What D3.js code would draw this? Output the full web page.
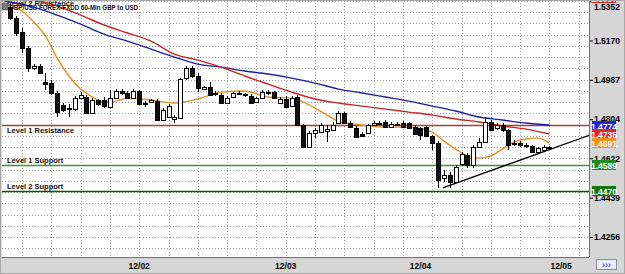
<!DOCTYPE html>
<html>
<head>
<meta charset="utf-8">
<script src="https://cdn.jsdelivr.net/npm/d3@7"></script>
<style>
  body { margin: 0; background: #fff; }
  text { font-family: "Liberation Sans Narrow", "Arial Narrow", "Liberation Sans", Arial, sans-serif; font-weight: bold; }
</style>
</head>
<body>
<script>
// hourly GBP/USD candles, bar 0 .. 92
const open = [1.5325,1.5274,1.5209,1.5135,1.5042,1.5051,1.4977,1.4972,1.4926,1.4870,1.4856,1.4851,1.4902,1.4907,1.4833,1.4893,1.4893,1.4860,1.4902,1.4935,
  1.4926,1.4902,1.4935,1.4879,1.4884,1.4888,1.4800,1.4814,1.4805,1.4809,1.4995,1.5042,1.5005,1.4944,1.4953,1.4926,1.4916,1.4879,1.4907,1.4921,
  1.4916,1.4912,1.4884,1.4902,1.4930,1.4930,1.4879,1.4898,1.4865,1.4907,1.4777,1.4674,1.4740,1.4744,1.4749,1.4753,1.4786,1.4833,1.4786,1.4763,
  1.4735,1.4740,1.4777,1.4786,1.4791,1.4767,1.4781,1.4786,1.4786,1.4767,1.4763,1.4767,1.4726,1.4693,1.4530,1.4544,1.4512,1.4595,1.4637,1.4591,
  1.4674,1.4698,1.4791,1.4763,1.4777,1.4753,1.4693,1.4693,1.4684,1.4679,1.4651,1.4660,1.4670]
const high = [1.5344,1.5284,1.5228,1.5144,1.5060,1.5060,1.5019,1.4986,1.4935,1.4879,1.4874,1.4912,1.4930,1.4916,1.4902,1.4898,1.4907,1.4939,1.4944,1.4944,
  1.4935,1.4944,1.4939,1.4888,1.4898,1.4898,1.4856,1.4874,1.4823,1.4995,1.5051,1.5051,1.5019,1.4958,1.4977,1.4935,1.4926,1.4912,1.4930,1.4935,
  1.4926,1.4921,1.4907,1.4939,1.4939,1.4935,1.4907,1.4912,1.4912,1.4916,1.4781,1.4749,1.4763,1.4786,1.4777,1.4791,1.4842,1.4837,1.4795,1.4772,
  1.4744,1.4781,1.4795,1.4795,1.4800,1.4791,1.4791,1.4795,1.4791,1.4777,1.4767,1.4772,1.4730,1.4702,1.4567,1.4558,1.4591,1.4651,1.4647,1.4684,
  1.4716,1.4814,1.4800,1.4786,1.4786,1.4758,1.4707,1.4702,1.4693,1.4684,1.4674,1.4684,1.4679]
const low = [1.5265,1.5191,1.5112,1.5023,1.5032,1.5014,1.4939,1.4916,1.4814,1.4837,1.4814,1.4842,1.4898,1.4828,1.4828,1.4865,1.4856,1.4856,1.4898,1.4916,
  1.4898,1.4898,1.4870,1.4860,1.4879,1.4795,1.4795,1.4809,1.4786,1.4805,1.4986,1.4995,1.4930,1.4939,1.4912,1.4912,1.4874,1.4874,1.4902,1.4916,
  1.4907,1.4874,1.4879,1.4898,1.4916,1.4898,1.4874,1.4856,1.4860,1.4772,1.4670,1.4670,1.4716,1.4740,1.4698,1.4749,1.4781,1.4781,1.4763,1.4716,
  1.4721,1.4735,1.4772,1.4777,1.4763,1.4763,1.4772,1.4763,1.4758,1.4730,1.4707,1.4721,1.4660,1.4484,1.4512,1.4484,1.4507,1.4586,1.4577,1.4577,
  1.4670,1.4693,1.4749,1.4753,1.4744,1.4660,1.4679,1.4674,1.4670,1.4647,1.4647,1.4656,1.4665]
const close = [1.5274,1.5205,1.5135,1.5042,1.5051,1.5019,1.4967,1.4926,1.4837,1.4846,1.4851,1.4902,1.4916,1.4833,1.4893,1.4874,1.4865,1.4902,1.4935,1.4926,
  1.4902,1.4935,1.4874,1.4874,1.4893,1.4800,1.4846,1.4865,1.4814,1.4991,1.5042,1.5005,1.4949,1.4953,1.4916,1.4921,1.4879,1.4902,1.4926,1.4926,
  1.4921,1.4879,1.4902,1.4930,1.4926,1.4902,1.4898,1.4860,1.4902,1.4777,1.4674,1.4740,1.4753,1.4777,1.4758,1.4777,1.4833,1.4786,1.4767,1.4721,
  1.4726,1.4777,1.4786,1.4781,1.4767,1.4781,1.4777,1.4767,1.4763,1.4735,1.4730,1.4726,1.4693,1.4521,1.4544,1.4512,1.4581,1.4642,1.4591,1.4674,
  1.4698,1.4791,1.4753,1.4777,1.4753,1.4684,1.4688,1.4684,1.4679,1.4651,1.4670,1.4674,1.4674]

// moving averages, read at selected bars
const maBars = [-1,0,4,8,12,16,20,24,28,32,36,40,44,48,52,56,60,64,68,72,76,80,84,88,92]
const blueMa = [1.5353,1.5349,1.5325,1.5288,1.5246,1.5200,1.5167,1.5130,1.5093,1.5060,1.5046,1.5028,1.5014,1.4995,1.4972,1.4944,1.4926,1.4907,1.4888,1.4865,1.4842,1.4814,1.4800,1.4786,1.4777]
const redMa = [1.5372,1.5363,1.5358,1.5330,1.5288,1.5242,1.5205,1.5167,1.5107,1.5079,1.5046,1.5005,1.4967,1.4930,1.4898,1.4879,1.4865,1.4851,1.4837,1.4823,1.4805,1.4791,1.4772,1.4758,1.4735]
const orangeBars = [-1,0,2,4,6,8,10,12,14,16,18,20,24,28,32,36,40,44,48,52,56,60,64,68,72,74,76,78,80,82,84,86,88,90,92]
const orangeMa = [1.5344,1.5335,1.5307,1.5256,1.5191,1.5088,1.5005,1.4944,1.4907,1.4884,1.4888,1.4902,1.4893,1.4879,1.4898,1.4930,1.4935,1.4907,1.4902,1.4856,
  1.4795,1.4777,1.4767,1.4767,1.4744,1.4702,1.4665,1.4633,1.4623,1.4633,1.4665,1.4698,1.4712,1.4716,1.4693]

const levelNames = ['Level 2 Resistance', 'Level 1 Resistance', 'Level 1 Support', 'Level 2 Support']
const levelValues = [1.5367, 1.4777, 1.4589, 1.4470]
const levelColors = ['#b03a3a', '#a83c3c', '#2e9a2e', '#0c540c']

const trendBars = [73.8, 98.9]
const trendValues = [1.4484, 1.4730]

const yTicks = [1.5352, 1.5170, 1.4987, 1.4804, 1.4622, 1.4439, 1.4256]
const dayLabels = ['12/02', '12/03', '12/04', '12/05']
const dayBars = [22, 47, 70, 94]

const tagValues = [1.5367, 1.4774, 1.4735, 1.4691, 1.4589, 1.4470]
const tagColors = ['#d42020', '#2525d0', '#e02828', '#f0901c', '#1d8a1d', '#10780f']

const title = 'GBP/USD FOREX-FXDD 60-Min GBP to USD'

const width = 625
const height = 274
const plot = { left: 2, top: 0, right: 589, bottom: 257 }

const svg = d3.select('body').append('svg')
  .attr('width', width)
  .attr('height', height)

svg.append('rect').attr('width', width).attr('height', height).attr('fill', '#d6d6d6')
svg.append('rect')
  .attr('x', plot.left).attr('y', plot.top)
  .attr('width', plot.right - plot.left).attr('height', plot.bottom - plot.top)
  .attr('fill', '#fff')

svg.append('clipPath').attr('id', 'clip').append('rect')
  .attr('x', plot.left).attr('y', plot.top)
  .attr('width', plot.right - plot.left).attr('height', plot.bottom - plot.top)

const xScale = d3.scaleLinear().domain([0, 92]).range([10.3, 549.4])
const yScale = d3.scaleLinear().domain([1.4256, 1.5170]).range([237, 40.5])

const g = svg.append('g').attr('clip-path', 'url(#clip)')

// grid
const step = (1.4622 - 1.4256) / 7
const hGrid = d3.range(-1, 23).map(k => 1.4256 + k * step)
g.selectAll('line.hgrid').data(hGrid).enter().append('line')
  .attr('x1', plot.left).attr('x2', plot.right)
  .attr('y1', d => Math.round(yScale(d)) + 0.5).attr('y2', d => Math.round(yScale(d)) + 0.5)
  .attr('stroke', '#9a9a9a').attr('stroke-dasharray', '1,2')
const vGrid = d3.range(2, 98, 5)
g.selectAll('line.vgrid').data(vGrid).enter().append('line')
  .attr('x1', d => Math.round(xScale(d)) + 0.5).attr('x2', d => Math.round(xScale(d)) + 0.5)
  .attr('y1', plot.top).attr('y2', plot.bottom)
  .attr('stroke', '#9a9a9a').attr('stroke-dasharray', '1,2')

// support / resistance
g.selectAll('line.level').data(levelValues).enter().append('line')
  .attr('x1', plot.left).attr('x2', plot.right)
  .attr('y1', d => Math.round(yScale(d)) + 0.5).attr('y2', d => Math.round(yScale(d)) + 0.5)
  .attr('stroke', (d, i) => levelColors[i]).attr('stroke-width', 1.3)
g.selectAll('text.level').data(levelNames).enter().append('text')
  .attr('x', 7)
  .attr('y', (d, i) => yScale(levelValues[i]) + (d.includes('Resistance') ? 8 : -2))
  .attr('font-size', 7.5).attr('fill', '#111')
  .text(d => d)

// moving averages
const line = d3.line().curve(d3.curveMonotoneX)
const maLines = [
  { bars: maBars, vals: blueMa, color: '#1f1f9a' },
  { bars: maBars, vals: redMa, color: '#c62626' },
  { bars: orangeBars, vals: orangeMa, color: '#e2901f' }
]
g.selectAll('path.ma').data(maLines).enter().append('path')
  .attr('d', d => line(d.bars.map((b, i) => [xScale(b), yScale(d.vals[i])])))
  .attr('fill', 'none').attr('stroke', d => d.color).attr('stroke-width', 1.4)

// candles
const bars = open.map((o, i) => ({ i, o, h: high[i], l: low[i], c: close[i] }))
const cg = g.selectAll('g.bar').data(bars).enter().append('g')
cg.append('line')
  .attr('x1', d => Math.round(xScale(d.i)) + 0.5).attr('x2', d => Math.round(xScale(d.i)) + 0.5)
  .attr('y1', d => Math.round(yScale(d.h))).attr('y2', d => Math.round(yScale(d.l)))
  .attr('stroke', '#000')
cg.append('rect')
  .attr('x', d => Math.round(xScale(d.i)) - 1.5)
  .attr('width', 4)
  .attr('y', d => Math.round(yScale(Math.max(d.o, d.c))) + 0.5)
  .attr('height', d => Math.max(1, Math.round(yScale(Math.min(d.o, d.c))) - Math.round(yScale(Math.max(d.o, d.c)))))
  .attr('fill', d => d.c < d.o ? '#111' : '#fff')
  .attr('stroke', '#000')

// trend line
g.append('line')
  .attr('x1', xScale(trendBars[0])).attr('y1', yScale(trendValues[0]))
  .attr('x2', xScale(trendBars[1])).attr('y2', yScale(trendValues[1]))
  .attr('stroke', '#000').attr('stroke-width', 1.3)

// title
svg.append('rect').attr('x', 2).attr('y', 3).attr('width', 6).attr('height', 7)
  .attr('fill', '#7a7a7a').attr('stroke', '#333').attr('stroke-width', 0.5)
svg.append('text').attr('x', 9).attr('y', 10)
  .attr('font-size', 7.5).attr('fill', '#111')
  .attr('textLength', 129).attr('lengthAdjust', 'spacingAndGlyphs')
  .text(title)

// frame
svg.append('line').attr('x1', plot.right + 0.5).attr('x2', plot.right + 0.5)
  .attr('y1', 0).attr('y2', plot.bottom).attr('stroke', '#707070')
svg.append('line').attr('x1', plot.left).attr('x2', plot.right)
  .attr('y1', plot.bottom + 0.5).attr('y2', plot.bottom + 0.5).attr('stroke', '#707070')

// y axis
const yAxis = svg.append('g')
  .attr('transform', 'translate(' + (plot.right + 1) + ',0)')
  .call(d3.axisRight(yScale).tickValues(yTicks).tickSize(3).tickPadding(1).tickFormat(d3.format('.4f')))
yAxis.select('.domain').remove()
yAxis.selectAll('text').attr('font-size', 8.5).attr('fill', '#000')
  .attr('font-family', '"Liberation Sans Narrow", "Liberation Sans", Arial, sans-serif')
  .attr('font-weight', 'bold')
yAxis.selectAll('.tick').filter(d => yScale(d) < 6).select('text').attr('dy', '0.9em')

// value tags
const tags = svg.append('g').selectAll('g').data(tagValues).enter().append('g')
  .attr('transform', d => 'translate(592,' + Math.round(yScale(d)) + ')')
tags.append('rect').attr('x', 0).attr('y', -5).attr('width', 24).attr('height', 10)
  .attr('fill', (d, i) => tagColors[i])
tags.append('text').attr('x', 12).attr('y', 3.5).attr('text-anchor', 'middle')
  .attr('font-size', 8.5).attr('fill', '#fff')
  .text(d => d.toFixed(4))

// x axis labels
svg.append('g').selectAll('text').data(dayLabels).enter().append('text')
  .attr('x', (d, i) => xScale(dayBars[i]))
  .attr('y', 269)
  .attr('text-anchor', 'middle')
  .attr('font-size', 8.5).attr('fill', '#000')
  .text(d => d)

// scroll button
svg.append('rect').attr('x', 596.5).attr('y', 259.5).attr('width', 20).attr('height', 10)
  .attr('fill', '#ececf4').attr('stroke', '#8a8a9a')
svg.append('text').attr('x', 606.5).attr('y', 268).attr('text-anchor', 'middle')
  .attr('font-size', 9).attr('fill', '#4848c8')
  .text('›››')

svg.append('rect').attr('x', 0.5).attr('y', 0.5).attr('width', width - 1).attr('height', height - 1)
  .attr('fill', 'none').attr('stroke', '#a8a8a8')
</script>
</body>
</html>
